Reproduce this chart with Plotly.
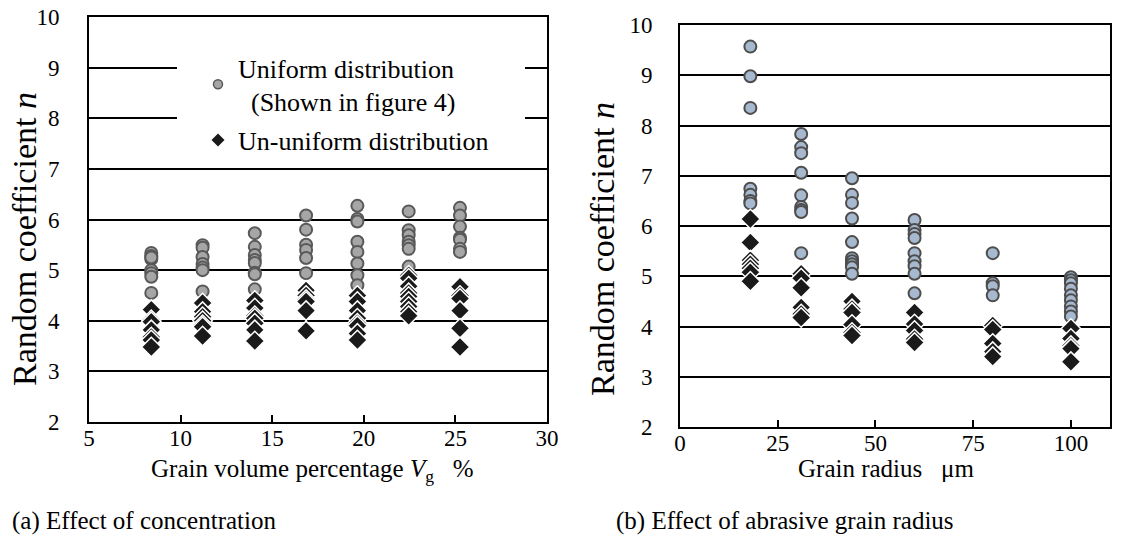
import plotly.graph_objects as go

# ---------------- data ----------------
# (a) effect of concentration: grain volume percentage Vg (%)
vg_levels = [8.4, 11.2, 14.05, 16.85, 19.65, 22.45, 25.25]
uniform_a = [
    [5.34, 5.28, 5.22, 5.25, 5.00, 4.94, 4.87, 4.55],
    [5.49, 5.44, 5.26, 5.12, 5.05, 5.00, 4.58],
    [5.73, 5.46, 5.30, 5.20, 5.14, 4.95, 4.92, 4.62],
    [6.08, 5.80, 5.50, 5.40, 5.24, 4.94],
    [6.27, 6.01, 5.96, 5.56, 5.36, 5.13, 4.90, 4.70],
    [6.16, 5.79, 5.69, 5.56, 5.49, 5.42, 5.07],
    [6.23, 6.08, 5.86, 5.64, 5.60, 5.42, 5.36],
]
ununiform_a = [
    [4.22, 4.02, 3.98, 3.82, 3.68, 3.62, 3.48],
    [4.35, 4.18, 4.08, 4.00, 3.92, 3.88, 3.70],
    [4.40, 4.25, 4.10, 4.05, 3.95, 3.82, 3.60],
    [4.60, 4.50, 4.42, 4.38, 4.20, 3.80],
    [4.50, 4.38, 4.20, 4.05, 3.95, 3.90, 3.75, 3.62],
    [4.90, 4.84, 4.68, 4.55, 4.48, 4.38, 4.28, 4.18, 4.10],
    [4.67, 4.50, 4.44, 4.20, 3.85, 3.48],
]

# (b) effect of abrasive grain radius (um)
radius_levels = [18, 31, 44, 60, 80, 100]
uniform_b = [
    [9.57, 8.98, 8.35, 6.74, 6.62, 6.50, 6.45],
    [7.83, 7.57, 7.45, 7.06, 6.61, 6.38, 6.32, 6.28, 5.46],
    [6.95, 6.62, 6.46, 6.15, 5.68, 5.36, 5.30, 5.24, 5.18, 5.05],
    [6.12, 5.92, 5.84, 5.76, 5.46, 5.30, 5.20, 5.05, 4.66],
    [5.46, 4.86, 4.80, 4.62],
    [4.98, 4.92, 4.86, 4.75, 4.62, 4.52, 4.40, 4.30, 4.20],
]
ununiform_b = [
    [6.14, 5.67, 5.32, 5.24, 5.16, 5.08, 4.90],
    [5.05, 4.96, 4.77, 4.38, 4.25, 4.18],
    [4.50, 4.35, 4.28, 4.04, 3.88, 3.82],
    [4.28, 4.05, 3.92, 3.75, 3.68],
    [4.02, 3.94, 3.66, 3.50, 3.40],
    [3.96, 3.76, 3.62, 3.56, 3.30],
]

x_ticks_a = [5, 10, 15, 20, 25, 30]
x_ticks_b = [0, 25, 50, 75, 100]
y_ticks = [2, 3, 4, 5, 6, 7, 8, 9, 10]

legend_uniform = "Uniform distribution<br>\u00a0\u00a0(Shown in figure 4)"
legend_ununiform = "Un-uniform distribution"


def flatten(levels, groups):
    xs, ys = [], []
    for lv, g in zip(levels, groups):
        for v in g:
            xs.append(lv)
            ys.append(v)
    return xs, ys


# ---------------- figure ----------------
W, H = 1122, 554


def px(x):
    return x / W


def py(y):
    return 1 - y / H


FONT = "Liberation Serif, Times New Roman, serif"

circ_a = dict(symbol="circle", size=12, color="#A6A6A6",
              line=dict(color="#595959", width=2))
circ_b = dict(symbol="circle", size=12, color="#A7B9CE",
              line=dict(color="#4D4D4D", width=2))
diam = dict(symbol="diamond", size=15, color="#1A1A1A",
            line=dict(color="white", width=1.5))

fig = go.Figure()

xa, ya = flatten(vg_levels, uniform_a)
fig.add_trace(go.Scatter(x=xa, y=ya, mode="markers", marker=circ_a,
                         showlegend=False, xaxis="x", yaxis="y"))
xa, ya = flatten(vg_levels, ununiform_a)
fig.add_trace(go.Scatter(x=xa, y=ya, mode="markers", marker=diam,
                         showlegend=False, xaxis="x", yaxis="y"))
xb, yb = flatten(radius_levels, uniform_b)
fig.add_trace(go.Scatter(x=xb, y=yb, mode="markers", marker=circ_b,
                         showlegend=False, xaxis="x2", yaxis="y2"))
xb, yb = flatten(radius_levels, ununiform_b)
fig.add_trace(go.Scatter(x=xb, y=yb, mode="markers", marker=diam,
                         showlegend=False, xaxis="x2", yaxis="y2"))

# legend entries (small symbols as in the reference)
fig.add_trace(go.Scatter(x=[None], y=[None], mode="markers", name=legend_uniform,
                         legendgroup="u",
                         marker=dict(symbol="circle", size=9, color="#A6A6A6",
                                     line=dict(color="#595959", width=1.5)),
                         xaxis="x", yaxis="y"))
fig.add_trace(go.Scatter(x=[None], y=[None], mode="markers", name=legend_ununiform,
                         legendgroup="n",
                         marker=dict(symbol="diamond", size=10, color="#1A1A1A",
                                     line=dict(color="white", width=0)),
                         xaxis="x", yaxis="y"))

tickfont = dict(family=FONT, size=23, color="black")
common_axis = dict(showline=True, linecolor="black", linewidth=2, mirror=True,
                   ticks="inside", ticklen=7, tickwidth=2, tickcolor="black",
                   zeroline=False, tickfont=tickfont, automargin=False,
                   ticklabeloverflow="allow")

fig.update_layout(
    width=W, height=H,
    margin=dict(l=0, r=0, t=0, b=0, autoexpand=False),
    paper_bgcolor="white", plot_bgcolor="white",
    font=dict(family=FONT, size=23, color="black"),
    xaxis=dict(domain=[px(89), px(547)], range=[5, 30], tickvals=x_ticks_a,
               showgrid=False, anchor="y", ticklabelstandoff=-6, **common_axis),
    yaxis=dict(domain=[py(422), py(17)], range=[2, 10], tickvals=y_ticks,
               showgrid=True, gridcolor="black", gridwidth=1.5, anchor="x",
               ticklabelstandoff=23, **common_axis),
    xaxis2=dict(domain=[px(680), px(1110)], range=[0, 110], tickvals=x_ticks_b,
                showgrid=False, anchor="y2", ticklabelstandoff=-6, **common_axis),
    yaxis2=dict(domain=[py(427), py(25)], range=[2, 10], tickvals=y_ticks,
                showgrid=True, gridcolor="black", gridwidth=1.5, anchor="x2",
                ticklabelstandoff=21, **common_axis),
    legend=dict(x=px(198), y=py(44), xanchor="left", yanchor="top",
                bgcolor="rgba(0,0,0,0)", borderwidth=0, itemsizing="trace",
                traceorder="grouped", tracegroupgap=2,
                font=dict(family=FONT, size=26, color="black")),
    shapes=[dict(type="rect", xref="paper", yref="paper", layer="above",
                 x0=px(177), x1=px(525), y0=py(160), y1=py(45),
                 fillcolor="white", line=dict(width=0))],
)

ann = []
ann.append(dict(text="Random coefficient <i>n</i>", textangle=-90,
                x=px(24), y=py(239), xref="paper", yref="paper",
                xanchor="center", yanchor="middle", showarrow=False,
                font=dict(family=FONT, size=34)))
ann.append(dict(text="Random coefficient <i>n</i>", textangle=-90,
                x=px(603), y=py(249), xref="paper", yref="paper",
                xanchor="center", yanchor="middle", showarrow=False,
                font=dict(family=FONT, size=34)))
ann.append(dict(text="Grain volume percentage <i>V</i><sub>g</sub>\u00a0\u00a0\u00a0%",
                x=px(312), y=py(470), xref="paper", yref="paper",
                xanchor="center", yanchor="middle", showarrow=False,
                font=dict(family=FONT, size=25)))
ann.append(dict(text="Grain radius\u00a0\u00a0\u00a0\u03bcm",
                x=px(886), y=py(468), xref="paper", yref="paper",
                xanchor="center", yanchor="middle", showarrow=False,
                font=dict(family=FONT, size=25)))
ann.append(dict(text="(a) Effect of concentration",
                x=px(10), y=py(521), xref="paper", yref="paper",
                xanchor="left", yanchor="middle", showarrow=False,
                font=dict(family=FONT, size=25)))
ann.append(dict(text="(b) Effect of abrasive grain radius",
                x=px(614), y=py(521), xref="paper", yref="paper",
                xanchor="left", yanchor="middle", showarrow=False,
                font=dict(family=FONT, size=25)))
fig.update_layout(annotations=ann)

# remove the default 8px page margin so the figure fills the window exactly
fig.write_html("out.html",
               config={"displayModeBar": False},
               post_script="document.body.style.margin='0px';"
                           "document.body.style.overflow='hidden';")
